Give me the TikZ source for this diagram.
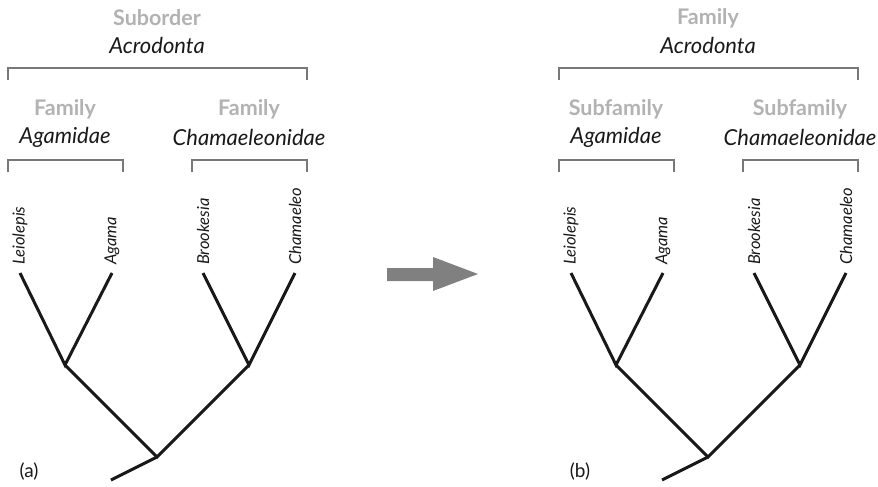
\documentclass[tikz,border=0pt]{standalone}
\usepackage{fontspec}
\setmainfont{Lato}
\definecolor{rankgray}{RGB}{178,178,178}
\definecolor{bracketgray}{RGB}{120,120,120}
\definecolor{arrowgray}{RGB}{128,128,128}
\tikzset{
  branch/.style={line width=3pt,black!90},
  bracket/.style={line width=1.3pt,bracketgray},
  rank/.style={font=\fontsize{21.5}{24}\selectfont\bfseries,text=rankgray,inner sep=0pt},
  taxon/.style={font=\fontsize{22}{24}\selectfont\itshape,text=black!90,inner sep=0pt},
  tip/.style={font=\fontsize{16.5}{18}\selectfont\itshape,text=black!90,inner sep=0pt,rotate=90,anchor=west},
  panel/.style={font=\fontsize{19}{21}\selectfont,text=black!90,inner sep=0pt}
}
\begin{document}
\begin{tikzpicture}[x=1pt,y=-1pt]
\useasboundingbox (0,0) rectangle (878,487);
% (a) suborder
\node[rank] (a-rank) at (157,18) {Suborder};
\node[taxon] (a-name) at (157,45) {Acrodonta};
\draw[bracket] (8,80)--(8,68)--(307,68)--(307,80);
\node[rank] (a-fam1) at (65,109) {Family};
\node[taxon] (a-agam) at (65,137) {Agamidae};
\draw[bracket] (8,172)--(8,160)--(123,160)--(123,172);
\node[rank] (a-fam2) at (249,109) {Family};
\node[taxon] (a-cham) at (249,137) {Chamaeleonidae};
\draw[bracket] (192,172)--(192,160)--(307,160)--(307,172);
% tree (a)
\coordinate (a-t1) at (20,273);
\coordinate (a-t2) at (112,273);
\coordinate (a-t3) at (203,273);
\coordinate (a-t4) at (295,273);
\coordinate (a-n1) at (65,365);
\coordinate (a-n2) at (249,365);
\coordinate (a-root) at (157,457);
\coordinate (a-stem) at (111,480);
\node[tip] (a-l1) at (20,265) {Leiolepis};
\node[tip] (a-l2) at (112,265) {Agama};
\node[tip] (a-l3) at (203,265) {Brookesia};
\node[tip] (a-l4) at (295,265) {Chamaeleo};
\draw[branch] (a-t1)--(a-n1)--(a-t2);
\draw[branch] (a-t3)--(a-n2)--(a-t4);
\draw[branch] (a-n1)--(a-root)--(a-n2);
\draw[branch] (a-root)--(a-stem);
\node[panel] (a-tag) at (29,472) {(a)};
% arrow
\fill[arrowgray] (387,268)--(433,268)--(433,257)--(478,274)--(433,291)--(433,281)--(387,281)--cycle;
% (b) family
\node[rank] (b-rank) at (708,18) {Family};
\node[taxon] (b-name) at (708,45) {Acrodonta};
\draw[bracket] (559,80)--(559,68)--(858,68)--(858,80);
\node[rank] (b-fam1) at (616,109) {Subfamily};
\node[taxon] (b-agam) at (616,137) {Agamidae};
\draw[bracket] (559,172)--(559,160)--(674,160)--(674,172);
\node[rank] (b-fam2) at (800,109) {Subfamily};
\node[taxon] (b-cham) at (800,137) {Chamaeleonidae};
\draw[bracket] (743,172)--(743,160)--(858,160)--(858,172);
% tree (b)
\coordinate (b-t1) at (571,273);
\coordinate (b-t2) at (663,273);
\coordinate (b-t3) at (754,273);
\coordinate (b-t4) at (846,273);
\coordinate (b-n1) at (616,365);
\coordinate (b-n2) at (800,365);
\coordinate (b-root) at (708,457);
\coordinate (b-stem) at (662,480);
\node[tip] (b-l1) at (571,265) {Leiolepis};
\node[tip] (b-l2) at (663,265) {Agama};
\node[tip] (b-l3) at (754,265) {Brookesia};
\node[tip] (b-l4) at (846,265) {Chamaeleo};
\draw[branch] (b-t1)--(b-n1)--(b-t2);
\draw[branch] (b-t3)--(b-n2)--(b-t4);
\draw[branch] (b-n1)--(b-root)--(b-n2);
\draw[branch] (b-root)--(b-stem);
\node[panel] (b-tag) at (580,472) {(b)};
\end{tikzpicture}
\end{document}
